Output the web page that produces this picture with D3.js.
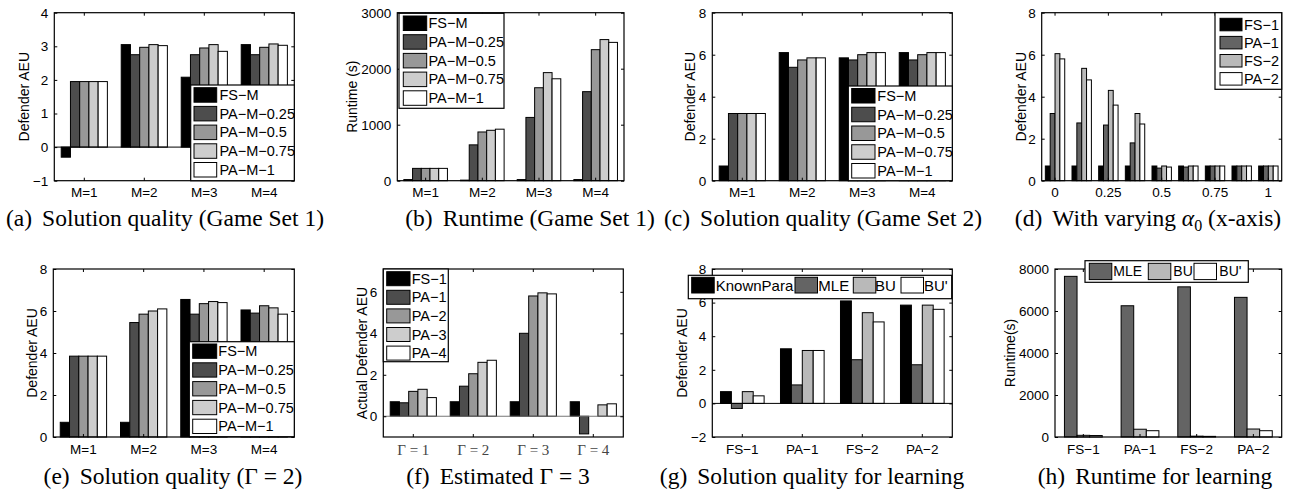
<!DOCTYPE html>
<html><head><meta charset="utf-8">
<script src="https://cdn.jsdelivr.net/npm/d3@7"></script>
<style>body{margin:0;background:#fff} svg{display:block}</style>
</head><body><svg id="c" width="1297" height="493"></svg>
<script>
// ---------- data ----------
const catsM = ["M=1","M=2","M=3","M=4"];
const seriesM = ["FS\u2212M","PA\u2212M\u22120.25","PA\u2212M\u22120.5","PA\u2212M\u22120.75","PA\u2212M\u22121"];
const qualitySet1 = [[-0.3,3.05,2.08,3.05],[1.95,2.75,2.75,2.75],[1.95,2.97,2.95,2.97],[1.95,3.05,3.05,3.07],[1.95,3.02,2.85,3.03]];
const runtimeSet1 = [[20,10,20,20],[220,640,1130,1590],[220,870,1660,2340],[220,900,1930,2520],[220,920,1820,2470]];
const qualitySet2 = [[0.7,6.1,5.85,6.1],[3.2,5.4,5.75,5.75],[3.2,5.75,6.0,6.0],[3.2,5.85,6.1,6.1],[3.2,5.85,6.1,6.1]];
const alphaCats = ["0","0.125","0.25","0.375","0.5","0.625","0.75","0.875","1"];
const alphaTicks = ["0","0.25","0.5","0.75","1"];
const seriesD = ["FS\u22121","PA\u22121","FS\u22122","PA\u22122"];
const alphaValues = [[0.7,0.7,0.7,0.7,0.7,0.7,0.7,0.7,0.7],[3.2,2.75,2.65,1.8,0.6,0.65,0.7,0.7,0.7],[6.05,5.35,4.3,3.2,0.7,0.7,0.7,0.7,0.7],[5.8,4.8,3.6,2.7,0.65,0.7,0.7,0.7,0.7]];
const qualityGamma2 = [[0.7,0.7,6.55,6.05],[3.85,5.45,5.85,5.9],[3.85,5.85,6.35,6.25],[3.85,6.0,6.45,6.15],[3.85,6.1,6.4,5.85]];
const catsGamma = ["\u0393 = 1","\u0393 = 2","\u0393 = 3","\u0393 = 4"];
const seriesF = ["FS\u22121","PA\u22121","PA\u22122","PA\u22123","PA\u22124"];
const estimatedGamma3 = [[0.7,0.7,0.7,0.7],[0.65,1.45,4.0,-0.85],[1.2,2.05,5.8,0],[1.3,2.6,5.95,0.55],[0.9,2.7,5.9,0.6]];
const catsLearn = ["FS\u22121","PA\u22121","FS\u22122","PA\u22122"];
const seriesG = ["KnownPara","MLE","BU","BU'"];
const learnQuality = [[0.7,3.25,6.1,5.85],[-0.3,1.1,2.6,2.3],[0.7,3.15,5.4,5.85],[0.45,3.15,4.85,5.6]];
const seriesH = ["MLE","BU","BU'"];
const learnRuntime = [[7650,6250,7150,6650],[80,370,40,380],[70,300,30,300]];
const ticksA = [-1,0,1,2,3,4];
const ticksB = [0,1000,2000,3000];
const ticks8 = [0,2,4,6,8];
const ticksF = [0,2,4,6];
const ticksG = [-2,0,2,4,6,8];
const ticksH = [0,2000,4000,6000,8000];

// ---------- styles ----------
const gray5 = ["#000","#4d4d4d","#989898","#cdcdcd","#fff"];
const gray4 = ["#000","#646464","#b9b9b9","#fff"];
const grayH = ["#646464","#b9b9b9","#fff"];
const SANS = "'Liberation Sans', Arial, Helvetica, sans-serif";
const SERIF = "'Liberation Serif', 'Times New Roman', serif";

const svg = d3.select("#c");
const fmt = d => d < 0 ? "\u2212" + (-d) : String(d);

function panel(o){
  const g = svg.append("g").attr("transform",`translate(${o.x},${o.y})`);
  const w = o.w, h = o.h;
  const y = d3.scaleLinear().domain(o.yDomain).range([h,0]);
  const m = o.series.length;
  const gw = Math.min(0.8, m/(m+1.5));
  const x0 = d3.scaleBand().domain(o.cats).range([0,w]).paddingInner(1-gw).paddingOuter((1-gw)/2);
  const x1 = d3.scaleBand().domain(d3.range(m)).range([0,x0.bandwidth()]);
  o.values.forEach((vals,si)=>{
    g.append("g").selectAll("rect").data(vals).join("rect")
      .attr("x",(d,i)=>x0(o.cats[i])+x1(si)).attr("width",x1.bandwidth())
      .attr("y",d=>y(Math.max(0,d))).attr("height",d=>Math.abs(y(d)-y(0)))
      .attr("fill",o.colors[si]).attr("stroke","#000").attr("stroke-width",1);
  });
  if (o.yDomain[0] < 0) {
    g.append("line").attr("x1",0).attr("x2",w).attr("y1",y(0)).attr("y2",y(0))
      .attr("stroke",o.baseColor||"#000").attr("stroke-width",1);
  }
  const ya = g.append("g").call(d3.axisLeft(y).tickValues(o.yTicks).tickSize(-3).tickPadding(6).tickFormat(fmt));
  const yr = g.append("g").attr("transform",`translate(${w},0)`).call(d3.axisRight(y).tickValues(o.yTicks).tickSize(-3).tickFormat(""));
  const xTickVals = o.xTicks || o.cats;
  const xa = g.append("g").attr("transform",`translate(0,${h})`).call(d3.axisBottom(x0).tickValues(xTickVals).tickSize(-3).tickPadding(7));
  const xt = g.append("g").call(d3.axisTop(x0).tickValues(xTickVals).tickSize(-3).tickFormat(""));
  [ya,yr,xa,xt].forEach(a=>{ a.select(".domain").remove(); a.selectAll("line").attr("stroke","#000");
    a.selectAll("text").attr("fill","#000").style("font-family",SANS).style("font-size","13.5px"); });
  if (o.serifX) xa.selectAll("text").style("font-family",SERIF).style("font-size","15px").attr("fill","#444");
  g.append("rect").attr("width",w).attr("height",h).attr("fill","none").attr("stroke","#000").attr("stroke-width",1.2);
  svg.append("text").attr("transform",`translate(${o.labelX},${o.y+h/2}) rotate(-90)`)
    .attr("text-anchor","middle").attr("dominant-baseline","central")
    .style("font-family",SANS).style("font-size","14px").text(o.yLabel);
  const L = o.legend;
  const lg = svg.append("g");
  lg.append("rect").attr("x",L.x).attr("y",L.y).attr("width",L.w).attr("height",L.h)
    .attr("fill","#fff").attr("stroke","#000").attr("stroke-width",1.2);
  o.series.forEach((s,i)=>{
    const sx = L.vertical ? L.sx : L.sxs[i];
    const sy = L.vertical ? L.sy + i*L.pitch : L.sy;
    const tx = L.vertical ? L.tx : L.txs[i];
    lg.append("rect").attr("x",sx).attr("y",sy).attr("width",L.sw).attr("height",L.sh)
      .attr("fill",o.colors[i]).attr("stroke","#000").attr("stroke-width",1);
    lg.append("text").attr("x",tx).attr("y",sy+L.sh/2).attr("dominant-baseline","central")
      .style("font-family",SANS).style("font-size",(L.fs||14.5)+"px").text(s);
  });
}

function caption(cx,yb,label,parts){
  const t = svg.append("text").attr("x",cx).attr("y",yb).attr("text-anchor","middle")
    .style("font-family",SERIF).style("font-size","23.5px");
  t.append("tspan").text(label);
  parts.forEach((p,i)=>{
    const sp = t.append("tspan").text(p.t);
    if (i===0) sp.attr("dx",10);
    if (p.italic) sp.style("font-style","italic");
    if (p.sub) sp.attr("dy",5).style("font-size","16px");
    if (p.after) sp.attr("dy",-5);
  });
}

const TOP = 12.7, BOT = 269, H = 168;

panel({x:54.3,y:TOP,w:240,h:H,cats:catsM,series:seriesM,values:qualitySet1,colors:gray5,
  yDomain:[-1,4],yTicks:ticksA,yLabel:"Defender AEU",labelX:23.5,
  legend:{vertical:true,x:190.7,y:85,w:103.6,h:95.7,sx:194,sw:22.7,sh:14.5,sy:87.7,pitch:18.7,tx:219.5}});
panel({x:397.3,y:TOP,w:226.7,h:H,cats:catsM,series:seriesM,values:runtimeSet1,colors:gray5,
  yDomain:[0,3000],yTicks:ticksB,yLabel:"Runtime (s)",labelX:352,
  legend:{vertical:true,x:399,y:13.3,w:105,h:95,sx:403.3,sw:23.4,sh:14.5,sy:16,pitch:18.7,tx:428.5}});
panel({x:712.3,y:TOP,w:240,h:H,cats:catsM,series:seriesM,values:qualitySet2,colors:gray5,
  yDomain:[0,8],yTicks:ticks8,yLabel:"Defender AEU",labelX:690,
  legend:{vertical:true,x:848.3,y:86,w:104,h:94.7,sx:851.7,sw:23.3,sh:14.5,sy:88.5,pitch:18.75,tx:877.3}});
panel({x:1041.7,y:TOP,w:240,h:H,cats:alphaCats,xTicks:alphaTicks,series:seriesD,values:alphaValues,colors:gray4,
  yDomain:[0,8],yTicks:ticks8,yLabel:"Defender AEU",labelX:1021,
  legend:{vertical:true,x:1215,y:12.7,w:66.7,h:76.6,sx:1220,sw:22,sh:12.5,sy:18.3,pitch:18.1,tx:1244}});
panel({x:53.3,y:BOT,w:241,h:H,cats:catsM,series:seriesM,values:qualityGamma2,colors:gray5,
  yDomain:[0,8],yTicks:ticks8,yLabel:"Defender AEU",labelX:31.7,
  legend:{vertical:true,x:189.3,y:341.7,w:105,h:95,sx:192.7,sw:24,sh:14.3,sy:344,pitch:18.8,tx:218.3}});
panel({x:383.3,y:BOT,w:240,h:H,cats:catsGamma,series:seriesF,values:estimatedGamma3,colors:gray5,serifX:true,
  yDomain:[-1,7.1],yTicks:ticksF,yLabel:"Actual Defender AEU",labelX:361.7,baseColor:"#777",
  legend:{vertical:true,x:383.3,y:269,w:65,h:92.7,sx:386.7,sw:23.3,sh:14,sy:271.7,pitch:18.6,tx:411.7}});
panel({x:712.3,y:BOT,w:240,h:H,cats:catsLearn,series:seriesG,values:learnQuality,colors:gray4,
  yDomain:[-2,8],yTicks:ticksG,yLabel:"Defender AEU",labelX:681.7,
  legend:{vertical:false,x:688.3,y:275.3,w:263.4,h:23.4,sy:277.3,sw:22.5,sh:15.7,fs:15,
    sxs:[691.7,795,853.3,901],txs:[715.7,818.3,875,924]}});
panel({x:1055,y:BOT,w:226.7,h:H,cats:catsLearn,series:seriesH,values:learnRuntime,colors:grayH,
  yDomain:[0,8000],yTicks:ticksH,yLabel:"Runtime(s)",labelX:1010,
  legend:{vertical:false,x:1085,y:260.7,w:163.3,h:21.6,sy:263.3,sw:22.5,sh:16.3,fs:14,
    sxs:[1089.3,1148.3,1194],txs:[1113.3,1173.3,1219.3]}});

caption(165,226,"(a)",[{t:"Solution quality (Game Set 1)"}]);
caption(530,226,"(b)",[{t:"Runtime (Game Set 1)"}]);
caption(823,226,"(c)",[{t:"Solution quality (Game Set 2)"}]);
caption(1148,226,"(d)",[{t:"With varying "},{t:"\u03B1",italic:true},{t:"0",sub:true},{t:" (x-axis)",after:true}]);
caption(173,484,"(e)",[{t:"Solution quality (\u0393 = 2)"}]);
caption(498,484,"(f)",[{t:"Estimated \u0393 = 3"}]);
caption(812,484,"(g)",[{t:"Solution quality for learning"}]);
caption(1155,484,"(h)",[{t:"Runtime for learning"}]);
</script></body></html>
